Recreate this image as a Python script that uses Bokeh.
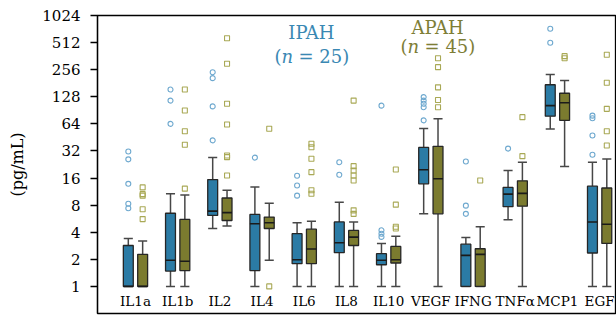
from bokeh.plotting import figure
from bokeh.models import FixedTicker, Label
from bokeh.core.properties import value
from bokeh.embed import file_html
from bokeh.resources import INLINE

categories = ["IL1a", "IL1b", "IL2", "IL4", "IL6", "IL8", "IL10", "VEGF", "IFNG", "TNF\u03b1", "MCP1", "EGF"]
y_ticks = [1, 2, 4, 8, 16, 32, 64, 128, 256, 512, 1024]

# IPAH (n = 25)
ipah_low = [1, 1, 4.4, 1, 1, 1, 1, 6.4, 1, 5.5, 56, 1]
ipah_q1 = [1, 1.48, 6.15, 1.5, 1.79, 2.37, 1.74, 13.8, 1, 7.7, 78, 2.35]
ipah_med = [1, 1.95, 6.86, 4.97, 1.98, 3.06, 1.95, 19.8, 2.21, 10.6, 102, 5.2]
ipah_q3 = [2.85, 6.5, 15.4, 6.3, 3.85, 5.2, 2.31, 35, 2.95, 12.6, 174, 13]
ipah_high = [3.4, 10.7, 27, 12.7, 5.1, 8.6, 3.0, 57, 3.5, 19.4, 226, 24]
ipah_outliers = [
    [31.6, 25.8, 13.8, 8.3, 7.4],
    [154, 116, 64],
    [240, 206, 100, 42],
    [27],
    [17, 13.2, 10.2],
    [24, 17.4],
    [102, 4.2, 3.85, 3.55],
    [127, 116, 107, 98, 70],
    [24.4, 7.9, 6.4],
    [34],
    [730, 510],
    [79, 74, 47.6, 29],
]

# APAH (n = 45)
apah_low = [1, 1, 4.7, 1.95, 1, 1, 1, 1, 1, 1, 21.5, 1]
apah_q1 = [1, 1.5, 5.4, 4.4, 1.79, 2.85, 1.82, 6.4, 1, 7.8, 70, 3.0]
apah_med = [1, 1.9, 6.6, 5.1, 2.6, 3.53, 1.98, 15.7, 2.27, 10.8, 110, 4.9]
apah_q3 = [2.27, 5.55, 9.6, 5.9, 4.33, 4.19, 2.78, 36, 2.62, 14.9, 140, 12.4]
apah_high = [3.2, 10.4, 11.7, 8.4, 5.3, 5.2, 3.6, 73, 4.6, 24, 194, 26]
apah_outliers = [
    [12.6, 10.6, 10.2, 7.2, 5.6],
    [154, 90, 53, 37.5, 12.2],
    [572, 298, 107, 63, 28.5, 27.3, 17.1],
    [56.5, 1.0],
    [38.5, 35.2, 26.2, 18.6, 11.7, 10.7],
    [116, 21.7, 19.4, 17.1, 15.0, 7.0, 6.4],
    [19.9, 8.1, 4.6, 4.4],
    [343, 273, 163, 118, 98],
    [15],
    [76, 28],
    [362, 343],
    [375, 183, 94, 53, 36.8],
]

FONT = "DejaVu Serif"
blue_fill = "#2b7ba5"
olive_fill = "#7b7b2f"
blue_out = "#6fa9cf"
olive_out = "#a9a956"
ipah_text = "#3a88b3"
apah_text = "#7e7e36"
edge = "#262626"
whisk = "#474747"

offset = 0.17
box_w = 0.235
cap_w = 0.215

p = figure(width=616, height=315, x_range=(-0.9, 11.4), y_range=(0.5, 1024),
           y_axis_type="log", output_backend="svg", toolbar_location=None,
           min_border_left=97, min_border_right=0, min_border_top=15, min_border_bottom=2)
p.xaxis.visible = False
p.xgrid.visible = False
p.ygrid.visible = False
p.outline_line_color = "black"
p.outline_line_width = 1.3
p.outline_line_alpha = 1.0
p.background_fill_color = "white"
p.border_fill_color = "white"

ya = p.yaxis[0]
ya.ticker = FixedTicker(ticks=y_ticks)
ya.major_label_overrides = {t: str(t) for t in y_ticks}
ya.minor_tick_line_color = None
ya.major_tick_out = 7
ya.major_tick_in = 0
ya.major_tick_line_width = 1.3
ya.axis_line_width = 1.3
ya.major_label_standoff = 10
ya.major_label_text_font = FONT
ya.major_label_text_font_size = "15px"
ya.major_label_text_color = "black"
ya.axis_label = "(pg/mL)"
ya.axis_label_text_font = FONT
ya.axis_label_text_font_style = "normal"
ya.axis_label_text_font_size = "16px"
ya.axis_label_text_color = "black"
ya.axis_label_standoff = 12

idx = list(range(len(categories)))

def draw_group(xs, low, q1, med, q3, high, outliers, fill, out_color, marker):
    p.segment(x0=xs, y0=low, x1=xs, y1=q1, line_color=whisk, line_width=1.5)
    p.segment(x0=xs, y0=q3, x1=xs, y1=high, line_color=whisk, line_width=1.5)
    p.segment(x0=[x - cap_w / 2 for x in xs], y0=high, x1=[x + cap_w / 2 for x in xs], y1=high,
              line_color=whisk, line_width=1.5)
    p.segment(x0=[x - cap_w / 2 for x in xs], y0=low, x1=[x + cap_w / 2 for x in xs], y1=low,
              line_color=whisk, line_width=1.5)
    p.vbar(x=xs, width=box_w, bottom=q1, top=q3, fill_color=fill, line_color=edge, line_width=1.3)
    p.segment(x0=[x - box_w / 2 for x in xs], y0=med, x1=[x + box_w / 2 for x in xs], y1=med,
              line_color="#1a1a1a", line_width=1.6)
    ox, oy = [], []
    for x, vals in zip(xs, outliers):
        for v in vals:
            ox.append(x)
            oy.append(v)
    p.scatter(x=ox, y=oy, marker=marker, size=5, fill_color=None, line_color=out_color, line_width=1.1)

draw_group([i - offset for i in idx], ipah_low, ipah_q1, ipah_med, ipah_q3, ipah_high,
           ipah_outliers, blue_fill, blue_out, "circle")
draw_group([i + offset for i in idx], apah_low, apah_q1, apah_med, apah_q3, apah_high,
           apah_outliers, olive_fill, olive_out, "square")

label_y = [0.68] * len(categories)
p.text(x=idx, y=label_y, text=categories, text_font=value(FONT), text_font_size="13.5px",
       text_align="center", text_baseline="middle", text_color="black")

def group_label(x, y_title, y_n, title, n_text, color):
    p.add_layout(Label(x=x, y=y_title, text=title, text_align="center", text_baseline="middle",
                       text_font=FONT, text_font_size="18px", text_color=color))
    p.add_layout(Label(x=x, y=y_n, text="(", text_align="right", text_baseline="middle",
                       x_offset=-30, text_font=FONT, text_font_size="18px", text_color=color))
    p.add_layout(Label(x=x, y=y_n, text="n", text_align="left", text_baseline="middle",
                       x_offset=-30, text_font=FONT, text_font_style="italic",
                       text_font_size="18px", text_color=color))
    p.add_layout(Label(x=x, y=y_n, text="= " + n_text + ")", text_align="left", text_baseline="middle",
                       x_offset=-13, text_font=FONT, text_font_size="18px", text_color=color))

group_label(4.17, 662, 359, "IPAH", "25", ipah_text)
group_label(7.16, 760, 466, "APAH", "45", apah_text)

open("out.html", "w").write(file_html(p, INLINE))
